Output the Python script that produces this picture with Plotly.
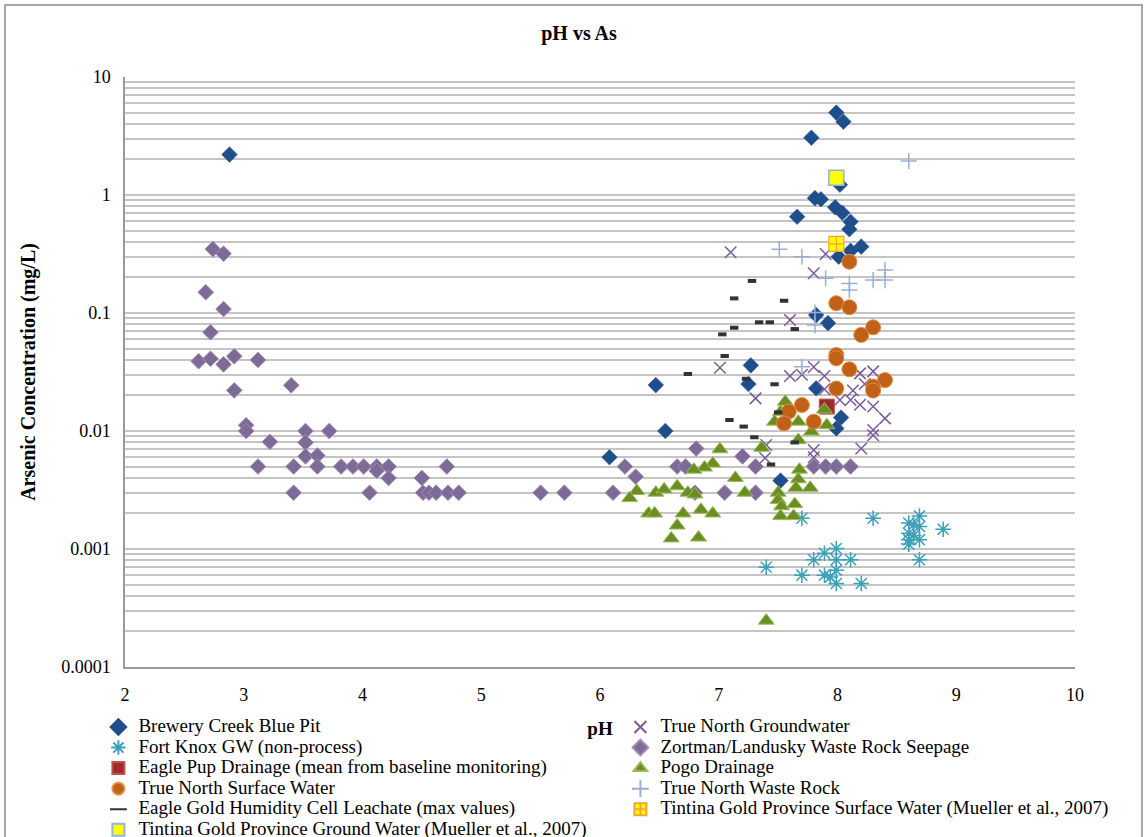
import plotly.graph_objects as go

# ---------------- data (pH, As mg/L) ----------------
brewery_ph = [2.88, 7.99, 8.05, 7.78, 8.02, 7.81, 7.86, 7.66, 7.98, 8.04, 8.11, 8.10, 8.20, 8.11, 8.01,
              7.82, 7.92, 7.27, 7.25, 6.47, 7.82, 6.55, 6.08, 7.52, 8.03, 7.99]
brewery_as = [2.2, 4.99, 4.18, 3.06, 1.22, 0.94, 0.92, 0.655, 0.787, 0.708, 0.594, 0.512, 0.365, 0.337, 0.30,
              0.096, 0.082, 0.036, 0.025, 0.0245, 0.023, 0.010, 0.006, 0.0038, 0.013, 0.0105]

fortknox_ph = [7.70, 8.30, 8.60, 8.69, 8.60, 8.69, 8.69, 8.60, 8.64, 8.89, 8.69, 7.40, 7.70, 7.80, 7.89,
               7.99, 8.11, 7.99, 7.89, 7.99, 7.99, 8.20, 7.94, 8.64, 8.60]
fortknox_as = [0.00182, 0.00182, 0.00166, 0.0019, 0.00136, 0.00155, 0.0012, 0.0011, 0.0016, 0.00147, 0.00081,
               0.0007, 0.0006, 0.00081, 0.00092, 0.00101, 0.00081, 0.00081, 0.0006, 0.00066, 0.00051, 0.00051,
               0.00058, 0.0013, 0.0012]

eaglepup_ph = [7.91]
eaglepup_as = [0.0161]

tnsw_ph = [8.10, 7.99, 8.10, 8.30, 8.20, 7.99, 7.99, 8.10, 8.40, 8.30, 7.99, 8.30, 7.70, 7.59, 7.55, 7.80]
tnsw_as = [0.272, 0.121, 0.112, 0.0756, 0.0652, 0.044, 0.0413, 0.0333, 0.0270, 0.0238, 0.0229, 0.022,
           0.0166, 0.0146, 0.0116, 0.012]

eaglegold_ph = [7.28, 7.13, 7.55, 7.34, 7.43, 7.13, 7.64, 7.03, 7.05, 6.74, 7.23, 7.47, 7.09, 7.21, 7.50,
                7.30, 7.64, 7.44]
eaglegold_as = [0.187, 0.133, 0.127, 0.0834, 0.0834, 0.075, 0.0731, 0.0659, 0.0432, 0.0304, 0.0277, 0.0249,
                0.0124, 0.0109, 0.0144, 0.00885, 0.0080, 0.0052]

tintina_gw_ph = [7.99]
tintina_gw_as = [1.40]

tngw_ph = [7.10, 7.90, 7.80, 7.60, 7.01, 7.60, 7.70, 7.80, 7.89, 8.19, 8.30, 8.23, 7.31, 7.89, 8.02, 8.11,
           8.19, 8.30, 8.40, 8.30, 8.30, 8.20, 7.40, 7.39, 7.80, 7.80, 8.13]
tngw_as = [0.327, 0.316, 0.217, 0.0873, 0.0344, 0.0292, 0.030, 0.0348, 0.0292, 0.0308, 0.032, 0.025, 0.0189,
           0.0226, 0.0183, 0.0183, 0.0167, 0.0161, 0.0128, 0.0102, 0.0092, 0.0071, 0.0076, 0.0059, 0.0069,
           0.006, 0.022]

zortman_ph = [2.74, 2.83, 2.68, 2.83, 2.72, 2.62, 2.72, 2.83, 2.92, 3.12, 2.92, 3.40, 3.02, 3.02, 3.22,
              3.52, 3.72, 3.52, 3.52, 3.62, 3.12, 3.42, 3.62, 3.82, 3.92, 4.01, 4.12, 4.12, 4.22, 4.22,
              4.50, 4.71, 3.42, 4.06, 4.51, 4.56, 4.62, 4.72, 4.81, 5.50, 5.70, 6.81, 6.21, 6.30, 6.11,
              6.65, 6.72, 6.80, 7.20, 7.31, 7.05, 7.31, 7.80, 7.90, 7.99, 8.11]
zortman_as = [0.348, 0.318, 0.150, 0.108, 0.0686, 0.039, 0.041, 0.0367, 0.043, 0.040, 0.0221, 0.0244, 0.0112,
              0.010, 0.0081, 0.010, 0.010, 0.0080, 0.0061, 0.0062, 0.005, 0.005, 0.005, 0.005, 0.005, 0.005,
              0.005, 0.0046, 0.005, 0.004, 0.004, 0.005, 0.003, 0.003, 0.003, 0.003, 0.003, 0.003, 0.003,
              0.003, 0.003, 0.0071, 0.005, 0.0041, 0.003, 0.005, 0.005, 0.003, 0.0061, 0.005, 0.003, 0.003,
              0.005, 0.005, 0.005, 0.005]

pogo_ph = [7.01, 6.95, 6.88, 6.79, 6.31, 6.25, 6.47, 6.54, 6.65, 6.74, 6.80, 7.14, 7.22, 6.41, 6.46, 6.70,
           6.85, 6.95, 6.65, 6.60, 6.83, 7.36, 7.68, 7.67, 7.77, 7.65, 7.50, 7.50, 7.52, 7.63, 7.53, 7.64,
           7.40, 7.56, 7.52, 7.47, 7.67, 7.89, 7.91, 7.78, 7.67]
pogo_as = [0.0070, 0.0053, 0.0049, 0.0047, 0.0031, 0.0027, 0.003, 0.0032, 0.0034, 0.003, 0.0029, 0.004,
           0.003, 0.002, 0.002, 0.002, 0.00215, 0.002, 0.00158, 0.00123, 0.00125, 0.0072, 0.0047, 0.0039,
           0.0033, 0.0033, 0.003, 0.0026, 0.0019, 0.0019, 0.0023, 0.0024, 0.000247, 0.0177, 0.0145, 0.012,
           0.012, 0.0152, 0.0112, 0.0099, 0.0084]

tnwr_ph = [8.60, 7.51, 7.70, 7.90, 8.10, 8.10, 8.30, 8.40, 8.40, 7.81, 7.81, 7.70]
tnwr_as = [1.94, 0.347, 0.30, 0.197, 0.178, 0.157, 0.19, 0.231, 0.19, 0.101, 0.079, 0.035]

tintina_sw_ph = [7.99]
tintina_sw_as = [0.385]

y_tickvals = [10, 1, 0.1, 0.01, 0.001, 0.0001]
y_ticktext = ["10", "1", "0.1", "0.01", "0.001", "0.0001"]
x_tickvals = [2, 3, 4, 5, 6, 7, 8, 9, 10]

FONT = "Liberation Serif"

fig = go.Figure()


def add(name, xs, ys, symbol, size, color, line_color=None, line_width=0):
    fig.add_trace(go.Scatter(
        x=xs, y=ys, mode="markers",
        name='<span style="font-size:19px">' + name + '</span>',
        marker=dict(symbol=symbol, size=size, color=color,
                    line=dict(color=line_color or color, width=line_width)),
    ))


# Order chosen so legend reads row by row like the reference (2 columns)
add("Brewery Creek Blue Pit", brewery_ph, brewery_as, "diamond", 12, "#1F4E8C", "#1F4E8C", 0.5)
add("True North Groundwater", tngw_ph, tngw_as, "x-thin-open", 11.5, "#7A5A9A", "#7A5A9A", 1.5)
add("Fort Knox GW (non-process)", fortknox_ph, fortknox_as, "asterisk-open", 13, "#3D9FB8", "#3D9FB8", 1.5)
add("Zortman/Landusky Waste Rock Seepage", zortman_ph, zortman_as, "diamond", 12, "#7D6A96", "#9C8CB4", 1)
add("Eagle Pup Drainage (mean from baseline monitoring)", eaglepup_ph, eaglepup_as, "square", 15, "#9E2A2B", "#C0504D", 1)
add("Pogo Drainage", pogo_ph, pogo_as, "triangle-up", 14, "#6B8E23", "#9BBB59", 1)
add("True North Surface Water", tnsw_ph, tnsw_as, "circle", 15, "#C0611A", "#E58C3F", 1)
add("True North Waste Rock", tnwr_ph, tnwr_as, "cross-thin-open", 11.5, "#9AAED3", "#9AAED3", 1.5)
add("Eagle Gold Humidity Cell Leachate (max values)", eaglegold_ph, eaglegold_as, "line-ew-open", 6, "#333333", "#333333", 4)
add("Tintina Gold Province Surface Water (Mueller et al., 2007)", tintina_sw_ph, tintina_sw_as, "square-cross", 15, "#FFFF00", "#F2A33A", 1.2)
add("Tintina Gold Province Ground Water (Mueller et al., 2007)", tintina_gw_ph, tintina_gw_as, "square", 15, "#FFFF00", "#8DB4E2", 1.5)

fig.update_layout(
    width=1144, height=837,
    paper_bgcolor="white", plot_bgcolor="white",
    margin=dict(l=125, r=69, t=77, b=170, autoexpand=False),
    font=dict(family=FONT, size=17, color="black"),
    title=dict(text="<b>pH vs As</b>", x=579 / 1144, xref="container", xanchor="center",
               y=1 - 33 / 837, yref="container", yanchor="middle",
               font=dict(family=FONT, size=20, color="black")),
    showlegend=True,
    legend=dict(orientation="h", x=-0.028, xanchor="left", y=-0.0758, yanchor="top",
                entrywidth=477, entrywidthmode="pixels", itemsizing="constant",
                font=dict(family=FONT, size=13.5, color="black"),
                bgcolor="rgba(0,0,0,0)", tracegroupgap=0),
    shapes=[dict(type="rect", xref="paper", yref="paper",
                 x0=(5 - 125) / 950, x1=(1142 - 125) / 950,
                 y0=(667 - 845) / 590, y1=(667 - 5) / 590,
                 line=dict(color="#8C8C8C", width=1.5), fillcolor="rgba(0,0,0,0)", layer="below")],
)

fig.update_xaxes(
    range=[2, 10], tickvals=x_tickvals, showgrid=False, zeroline=False,
    showline=True, linecolor="#9A9A9A", linewidth=1.5, ticks="",
    ticklabelstandoff=11,
    tickfont=dict(family=FONT, size=18, color="black"),
    title=dict(text="<b>pH</b>", standoff=17, font=dict(family=FONT, size=19, color="black")),
)

fig.update_yaxes(
    type="log", range=[-4, 1], tickvals=y_tickvals, ticktext=y_ticktext,
    showgrid=True, gridcolor="#C4C4C4", gridwidth=1.5, zeroline=False,
    showline=True, linecolor="#9A9A9A", linewidth=1.5, ticks="",
    ticklabelstandoff=9,
    minor=dict(dtick="D1", showgrid=True, gridcolor="#C4C4C4", gridwidth=1.5, ticks=""),
    tickfont=dict(family=FONT, size=18, color="black"),
    title=dict(text="<b>Arsenic Concentration (mg/L)</b>", standoff=20,
               font=dict(family=FONT, size=20, color="black")),
)

fig.write_html("out.html")
